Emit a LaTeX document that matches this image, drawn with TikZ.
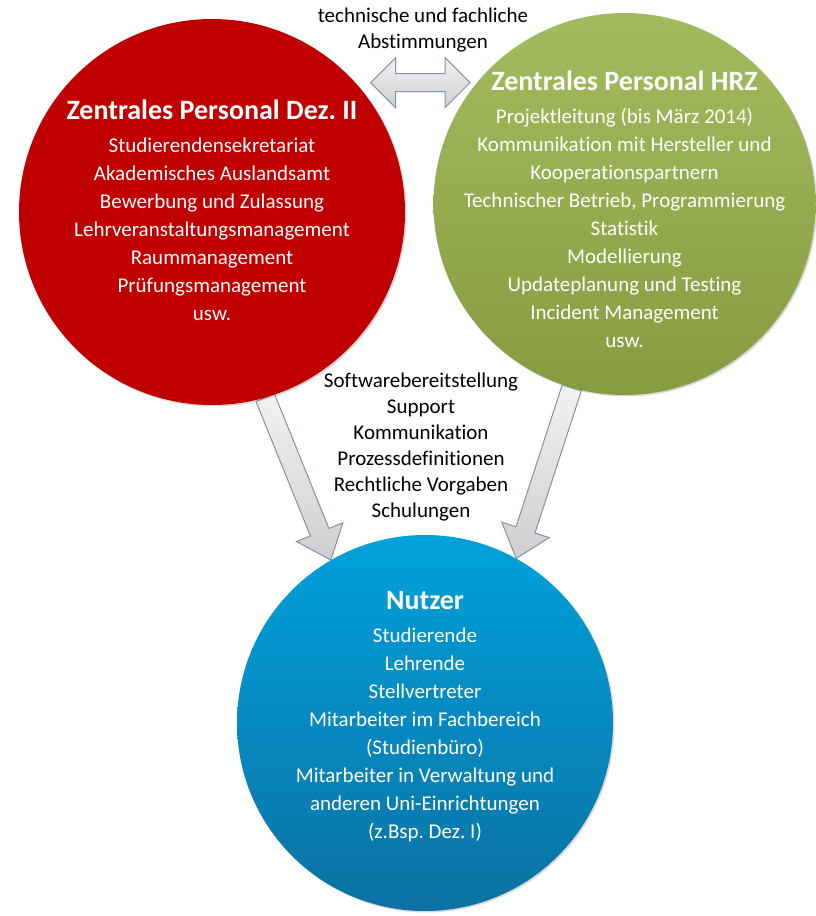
\documentclass[tikz,border=0pt]{standalone}
\usepackage{fontspec}
\setmainfont{Carlito}[Ligatures=NoCommon]
\usetikzlibrary{calc,shadows,backgrounds}
\frenchspacing

\definecolor{dezred}{HTML}{C00000}
\definecolor{hrztop}{HTML}{A3BB5E}
\definecolor{hrzbot}{HTML}{879B41}
\definecolor{nutztop}{HTML}{00A1DB}
\definecolor{nutzbot}{HTML}{0C71A3}
\definecolor{pfeilrand}{HTML}{8192A6}

\tikzset{
  kreis/.style={circle, inner sep=0pt, drop shadow={opacity=0.3, shadow xshift=1.5pt, shadow yshift=-1.5pt}},
  kreistext/.style={align=center, text=white, font=\fontsize{21}{28}\selectfont},
  randtext/.style={align=center, text=black, font=\fontsize{21}{26}\selectfont},
  pfeil/.style={draw=pfeilrand, line width=1pt, top color=gray!10, bottom color=gray!38},
}
\newcommand\titel[1]{{\fontsize{28}{30}\selectfont\bfseries #1}\\[5pt]}

% Blockpfeil von #1 nach #2
\newcommand\blockpfeil[2]{%
  \path[pfeil] let \p1=($(#2)-(#1)$), \n1={atan2(\y1,\x1)}, \n2={veclen(\x1,\y1)} in
    [shift={(#1)}, rotate=\n1]
    (0,-10) -- (\n2-30,-10) -- (\n2-30,-25) -- (\n2,0) -- (\n2-30,25) -- (\n2-30,10) -- (0,10) -- cycle;}
% Doppelpfeil zwischen #1 und #2
\newcommand\doppelpfeil[2]{%
  \path[pfeil] let \p1=($(#2)-(#1)$), \n1={atan2(\y1,\x1)}, \n2={veclen(\x1,\y1)} in
    [shift={(#1)}, rotate=\n1]
    (0,0) -- (25,-25) -- (25,-9) -- (\n2-25,-9) -- (\n2-25,-25) -- (\n2,0) -- (\n2-25,25) -- (\n2-25,9) -- (25,9) -- (25,25) -- cycle;}

\begin{document}
\begin{tikzpicture}[x=1pt, y=-1pt]
  \useasboundingbox (0,0) rectangle (815,916);

  % Kreise
  \node[kreis, minimum size=386pt, fill=dezred] (dez) at (212,212) {};
  \node[kreis, minimum size=382pt, top color=hrztop, bottom color=hrzbot] (hrz) at (624.5,204) {};
  \node[kreis, minimum size=376pt, top color=nutztop, bottom color=nutzbot] (nutzer) at (425,723) {};

  % Texte in den Kreisen
  \node[kreistext] (dezText) at ($(dez)+(0,-2)$) {\titel{Zentrales Personal Dez.~II}
    Studierendensekretariat\\ Akademisches Auslandsamt\\ Bewerbung und Zulassung\\
    Lehrveranstaltungsmanagement\\ Raummanagement\\ Prüfungsmanagement\\ usw.};
  \node[kreistext] (hrzText) at ($(hrz)+(0,5)$) {\titel{Zentrales Personal HRZ}
    Projektleitung (bis März 2014)\\ Kommunikation mit Hersteller und\\ Kooperationspartnern\\
    Technischer Betrieb, Programmierung\\ Statistik\\ Modellierung\\
    Updateplanung und Testing\\ Incident Management\\ usw.};
  \node[kreistext] (nutzerText) at ($(nutzer)+(0,-6)$) {\titel{Nutzer}
    Studierende\\ Lehrende\\ Stellvertreter\\ Mitarbeiter im Fachbereich\\ (Studienbüro)\\
    Mitarbeiter in Verwaltung und\\ anderen Uni-Einrichtungen\\ (z.Bsp. Dez.~I)};

  % Beschriftungen
  \node[randtext] (abst) at (423,30) {technische und fachliche\\ Abstimmungen};
  \node[randtext] (mitte) at (421,447) {Softwarebereitstellung\\ Support\\ Kommunikation\\
    Prozessdefinitionen\\ Rechtliche Vorgaben\\ Schulungen};

  % Pfeile
  \coordinate (abstL) at ($(dez.42)+(15,0)$);
  \coordinate (abstR) at ($(abstL -| hrz.140)+(-8,0)$);
  \begin{scope}[on background layer]
    \doppelpfeil{abstL}{abstR}
    \blockpfeil{dez.-74}{nutzer.120}
    \blockpfeil{hrz.-106}{nutzer.61}
  \end{scope}
\end{tikzpicture}
\end{document}
